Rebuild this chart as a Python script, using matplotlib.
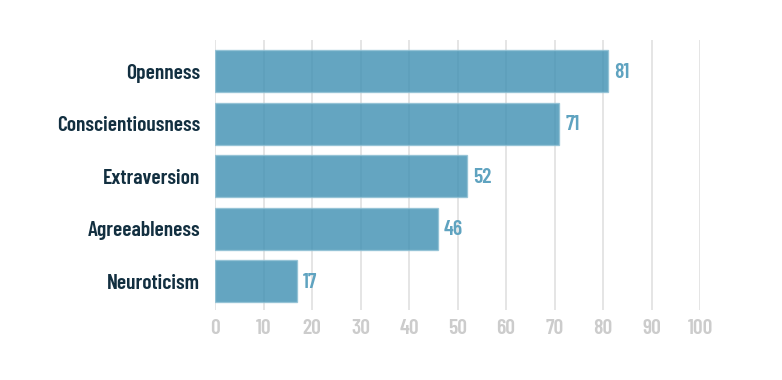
import matplotlib
matplotlib.use("Agg")
import matplotlib.pyplot as plt

categories = ["Openness", "Conscientiousness", "Extraversion", "Agreeableness", "Neuroticism"]
values = [81, 71, 52, 46, 17]
xticks = [0, 10, 20, 30, 40, 50, 60, 70, 80, 90, 100]

FONT = ["Barlow Condensed", "DejaVu Sans"]
fig = plt.figure(figsize=(7.82, 3.8), dpi=100)
ax = fig.add_axes([215/782, 1-310/380, (700-215)/782, (310-40)/380])

pos = list(range(len(categories)))
ax.barh(pos, values, height=0.8, color="#3d8fb2", alpha=0.8, edgecolor="#8fc0d4", linewidth=1, zorder=2)
ax.set_ylim(4.55, -0.6)
ax.set_xlim(0, 100)
ax.set_xticks(xticks)
ax.set_xticklabels([str(t) for t in xticks], fontsize=15.5, color="#cccccc",
                   family=FONT, fontweight=600)
ax.set_yticks(pos)
ax.set_yticklabels(categories, fontsize=15.5, color="#122f40", family=FONT,
                   fontweight=600)
ax.tick_params(axis="both", length=0)
ax.tick_params(axis="y", pad=10.8)
ax.tick_params(axis="x", pad=6.5)
ax.xaxis.grid(True, color="#e0e0e0", linewidth=1.2, zorder=1)
ax.set_axisbelow(True)
for s in ax.spines.values():
    s.set_visible(False)
for p, v in zip(pos, values):
    ax.text(v + 1.2, p + 0.02, str(v), va="center", ha="left", fontsize=15.5, color="#5fa3c0",
            family=FONT, fontweight=600)

fig.savefig("out.png", dpi=100)
